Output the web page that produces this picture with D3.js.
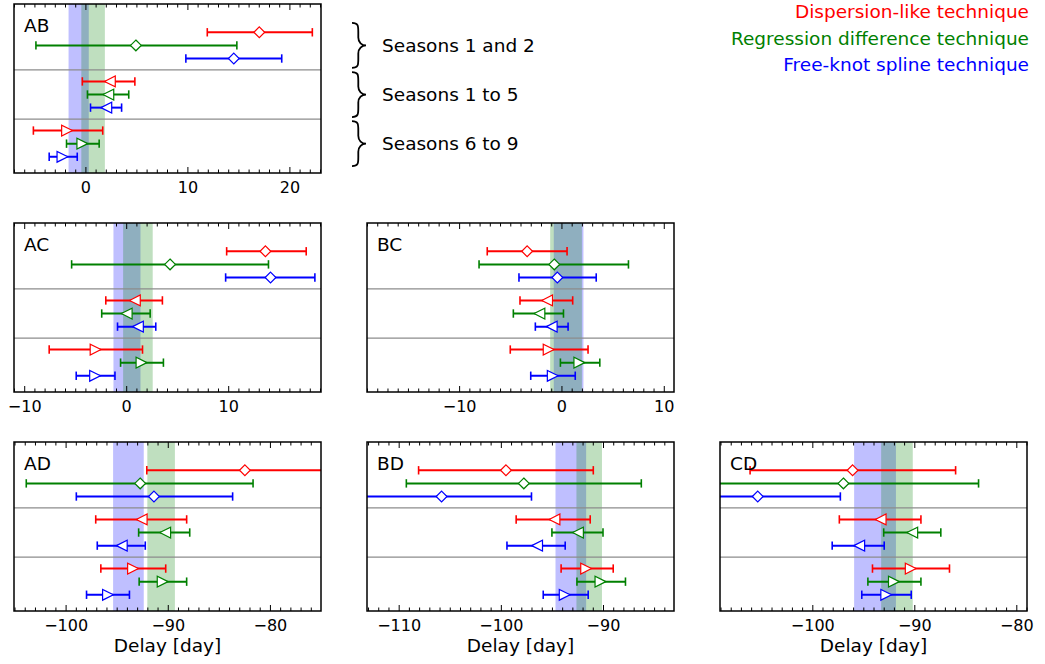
<!DOCTYPE html>
<html>
<head>
<meta charset="utf-8">
<script src="https://cdn.jsdelivr.net/npm/d3@7/dist/d3.min.js"></script>
<style>
  body { margin: 0; background: #fff; }
  svg text { font-family: "DejaVu Sans", sans-serif; }
</style>
</head>
<body>
<svg id="chart" width="1045" height="664"></svg>
<script>
// techniques and season groups
var techniques = ["Dispersion-like technique", "Regression difference technique", "Free-knot spline technique"];
var techColors = ["#ff0000", "#008000", "#0000ff"];
var seasons = ["Seasons 1 and 2", "Seasons 1 to 5", "Seasons 6 to 9"];
var pairs = ["AB", "AC", "BC", "AD", "BD", "CD"];

// delays: [estimate, lower, upper], rows = season group x technique
var delayAB = [
  [17.0, 11.9, 22.2], [4.9, -4.9, 14.8], [14.5, 9.8, 19.2],
  [2.35, -0.35, 4.8], [2.2, 0.15, 4.2], [2.0, 0.45, 3.5],
  [-1.85, -5.15, 1.65], [-0.35, -1.9, 1.3], [-2.3, -3.6, -0.85]
];
var delayAC = [
  [13.6, 9.8, 17.6], [4.25, -5.4, 13.9], [14.1, 9.7, 18.45],
  [0.8, -2.05, 3.5], [0.0, -2.45, 2.3], [1.1, -0.9, 2.85],
  [-3.05, -7.6, 1.55], [1.45, -0.6, 3.6], [-3.1, -4.95, -1.15]
];
var delayBC = [
  [-3.4, -7.3, 0.5], [-0.75, -8.1, 6.5], [-0.45, -4.2, 3.35],
  [-1.45, -4.1, 1.05], [-2.2, -4.75, 0.15], [-1.0, -2.6, 0.6],
  [-1.3, -5.05, 2.55], [1.7, -0.15, 3.7], [-0.9, -3.05, 1.3]
];
var delayAD = [
  [-82.5, -92.1, -72.9], [-92.75, -103.9, -81.7], [-91.4, -99.0, -83.7],
  [-92.6, -97.1, -88.2], [-90.3, -92.9, -87.9], [-94.55, -96.95, -92.25],
  [-93.45, -96.6, -90.25], [-90.55, -92.85, -88.2], [-95.9, -98.0, -93.8]
];
var delayBD = [
  [-99.55, -108.1, -91.0], [-97.8, -109.3, -86.3], [-105.85, -114.7, -97.05],
  [-94.8, -98.55, -91.3], [-92.5, -95.05, -90.05], [-96.5, -99.45, -93.75],
  [-91.7, -94.15, -89.05], [-90.3, -92.6, -87.85], [-93.8, -95.9, -91.5]
];
var delayCD = [
  [-96.1, -106.15, -86.0], [-97.0, -110.3, -83.75], [-105.4, -113.5, -97.3],
  [-93.35, -97.4, -89.4], [-90.25, -93.05, -87.45], [-95.45, -98.1, -93.0],
  [-90.4, -94.15, -86.6], [-92.05, -94.6, -89.4], [-92.8, -95.2, -90.35]
];
var delays = [delayAB, delayAC, delayBC, delayAD, delayBD, delayCD];

// shaded reference intervals [from, to]
var blueBands = [[-1.7, 0.28], [-1.3, 1.35], [-0.8, 2.1], [-95.4, -92.4], [-94.7, -91.7], [-95.95, -91.85]];
var greenBands = [[-0.45, 1.86], [-0.35, 2.55], [-1.15, 1.95], [-92.05, -89.35], [-92.65, -90.15], [-93.3, -90.2]];

// x ranges of each panel
var xDomains = [[-7.05, 23.05], [-11.05, 19.05], [-19.05, 10.95], [-105.1, -75.05], [-113.15, -83.1], [-109.1, -79.0]];

// layout (grid cell of each panel)
var cells = [[0, 0], [0, 1], [1, 1], [0, 2], [1, 2], [2, 2]];
var colLeft = [14, 367, 720], rowTop = [4, 223, 442];
var pw = 307, ph = 169;
var groupGap = 3.75;
var sepLevels = [2 + (groupGap - 2) / 2, 2 + groupGap + (groupGap - 2) / 2];

var svg = d3.select('#chart');
var defs = svg.append('defs');

var markerPaths = [
  'M0,-5.4L5.4,0L0,5.4L-5.4,0Z',     // diamond
  'M-5.4,0L5.4,-5.4L5.4,5.4Z',       // left triangle
  'M5.4,0L-5.4,-5.4L-5.4,5.4Z'       // right triangle
];

pairs.forEach(function(name, p){
  var left = colLeft[cells[p][0]], top = rowTop[cells[p][1]];
  var x = d3.scaleLinear().domain(xDomains[p]).range([0, pw]);
  var y = d3.scaleLinear().domain([-2.16, 10.74]).range([0, ph]);

  var g = svg.append('g').attr('transform', 'translate(' + left + ',' + top + ')');

  defs.append('clipPath').attr('id', 'clip' + p)
    .append('rect').attr('width', pw).attr('height', ph);

  var inner = g.append('g').attr('clip-path', 'url(#clip' + p + ')');

  // bands
  inner.append('rect')
    .attr('x', x(blueBands[p][0])).attr('width', x(blueBands[p][1]) - x(blueBands[p][0]))
    .attr('y', 0).attr('height', ph)
    .style('fill', '#0000ff').style('fill-opacity', 0.25);
  inner.append('rect')
    .attr('x', x(greenBands[p][0])).attr('width', x(greenBands[p][1]) - x(greenBands[p][0]))
    .attr('y', 0).attr('height', ph)
    .style('fill', '#008000').style('fill-opacity', 0.25);

  // separators between season groups
  inner.selectAll('line.sep')
    .data(sepLevels)
    .enter().append('line')
    .attr('class', 'sep')
    .attr('x1', 0).attr('x2', pw)
    .attr('y1', function(d){ return y(d); }).attr('y2', function(d){ return y(d); })
    .style('stroke', '#8c8c8c').style('stroke-width', 1.3);

  var rows = delays[p].map(function(d, i){
    var grp = Math.floor(i / 3), t = i % 3;
    return { grp: grp, t: t, level: grp * groupGap + t, v: d[0], lo: d[1], hi: d[2] };
  });

  var bar = inner.selectAll('g.bar').data(rows).enter().append('g').attr('class', 'bar');

  bar.append('line')
    .attr('x1', function(d){ return x(d.lo); }).attr('x2', function(d){ return x(d.hi); })
    .attr('y1', function(d){ return y(d.level); }).attr('y2', function(d){ return y(d.level); })
    .style('stroke', function(d){ return techColors[d.t]; }).style('stroke-width', 2);

  ['lo', 'hi'].forEach(function(k){
    bar.append('line')
      .attr('x1', function(d){ return x(d[k]); }).attr('x2', function(d){ return x(d[k]); })
      .attr('y1', function(d){ return y(d.level) - 4.2; }).attr('y2', function(d){ return y(d.level) + 4.2; })
      .style('stroke', function(d){ return techColors[d.t]; }).style('stroke-width', 1.6);
  });

  bar.append('path')
    .attr('d', function(d){ return markerPaths[d.grp]; })
    .attr('transform', function(d){ return 'translate(' + x(d.v) + ',' + y(d.level) + ')'; })
    .style('fill', '#fff')
    .style('stroke', function(d){ return techColors[d.t]; }).style('stroke-width', 1.2);

  // ticks, inward on top and bottom
  var first = Math.ceil(xDomains[p][0]), last = Math.floor(xDomains[p][1]);
  var ticks = d3.range(first, last + 1);
  var tg = g.append('g');
  tg.selectAll('line.tb').data(ticks).enter().append('line')
    .attr('x1', function(d){ return x(d); }).attr('x2', function(d){ return x(d); })
    .attr('y1', ph).attr('y2', function(d){ return ph - (d % 10 === 0 ? 6 : 3.5); })
    .style('stroke', '#000').style('stroke-width', 1);
  tg.selectAll('line.tt').data(ticks).enter().append('line')
    .attr('x1', function(d){ return x(d); }).attr('x2', function(d){ return x(d); })
    .attr('y1', 0).attr('y2', function(d){ return (d % 10 === 0 ? 6 : 3.5); })
    .style('stroke', '#000').style('stroke-width', 1);

  tg.selectAll('text').data(ticks.filter(function(d){ return d % 10 === 0; })).enter().append('text')
    .attr('x', function(d){ return x(d); })
    .attr('y', ph + 20)
    .attr('text-anchor', 'middle')
    .style('font-size', '16px')
    .text(d3.format('d'));

  // frame
  g.append('rect').attr('width', pw).attr('height', ph)
    .style('fill', 'none').style('stroke', '#000').style('stroke-width', 1.5);

  g.append('text')
    .attr('x', 10).attr('y', 27.5)
    .style('font-size', '18.5px')
    .text(name);

  if (cells[p][1] === 2) {
    g.append('text')
      .attr('x', pw / 2).attr('y', ph + 41)
      .attr('text-anchor', 'middle')
      .style('font-size', '18.5px')
      .text('Delay [day]');
  }
});

// season braces next to the AB panel
var yAB = d3.scaleLinear().domain([-2.16, 10.74]).range([rowTop[0], rowTop[0] + ph]);
seasons.forEach(function(s, i){
  var cy = yAB(i * groupGap + 1), h = 45, x0 = 352, w = 14;
  var y0 = cy - h / 2, y1 = cy + h / 2, xm = x0 + w * 0.45;
  var path = d3.path();
  path.moveTo(x0, y0);
  path.bezierCurveTo(xm, y0, xm, y0 + 3, xm, y0 + 9);
  path.lineTo(xm, cy - 8);
  path.bezierCurveTo(xm, cy - 3, x0 + w * 0.7, cy, x0 + w, cy);
  path.bezierCurveTo(x0 + w * 0.7, cy, xm, cy + 3, xm, cy + 8);
  path.lineTo(xm, y1 - 9);
  path.bezierCurveTo(xm, y1 - 3, xm, y1, x0, y1);
  svg.append('path').attr('d', path.toString())
    .style('fill', 'none').style('stroke', '#000').style('stroke-width', 1.8);
  svg.append('text')
    .attr('x', 382).attr('y', cy + 6.7)
    .style('font-size', '18.5px')
    .text(s);
});

// legend
techniques.forEach(function(t, i){
  svg.append('text')
    .attr('x', 1029).attr('y', 18.3 + i * 26.5)
    .attr('text-anchor', 'end')
    .style('font-size', '18.5px')
    .style('fill', techColors[i])
    .text(t);
});
</script>
</body>
</html>
